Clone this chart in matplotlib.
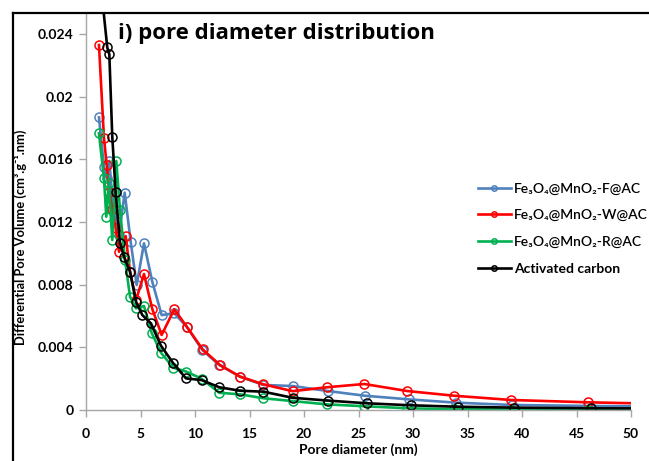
import matplotlib
matplotlib.use("Agg")
import matplotlib.pyplot as plt
from matplotlib.lines import Line2D

# ---------------- data ----------------
black_x = [1.5, 1.95, 2.14, 2.41, 2.72, 3.12, 3.51, 4.04, 4.59, 5.17, 5.96, 6.88, 8.01, 9.17,
           10.61, 12.23, 14.13, 16.27, 18.96, 22.2, 25.75, 29.79, 34.1, 39.3, 46.3, 55]
black_y = [0.0262, 0.02315, 0.0227, 0.01745, 0.0139, 0.01064, 0.00975, 0.00883, 0.00691, 0.00606,
           0.00553, 0.0041, 0.00298, 0.00202, 0.00191, 0.00145, 0.00123, 0.00117, 0.00078, 0.0006,
           0.00043, 0.0003, 0.00021, 0.00015, 0.00011, 0.00009]

blue_x = [1.19, 1.65, 1.9, 2.14, 2.41, 2.72, 3.03, 3.55, 4.1, 4.65, 5.32, 6.08, 6.94, 8.1, 9.24,
          10.67, 12.23, 14.13, 16.27, 18.96, 22.2, 25.6, 29.6, 33.9, 39.1, 46.1, 55]
blue_y = [0.01868, 0.0155, 0.0148, 0.0159, 0.0135, 0.0125, 0.0112, 0.01387, 0.01074, 0.00798,
          0.01064, 0.00819, 0.00606, 0.00617, 0.00532, 0.00383, 0.00287, 0.00213, 0.0016, 0.00153,
          0.00121, 0.00091, 0.00068, 0.00047, 0.00032, 0.00026, 0.0002]

red_x = [1.19, 1.65, 1.9, 2.14, 2.41, 2.72, 3.03, 3.64, 4.04, 4.59, 5.32, 6.08, 6.94, 8.1, 9.24,
         10.7, 12.3, 14.13, 16.27, 18.96, 22.08, 25.53, 29.48, 33.79, 38.99, 46.08, 55]
red_y = [0.0233, 0.01734, 0.01564, 0.0139, 0.0128, 0.0116, 0.0101, 0.0111, 0.00883, 0.00702,
         0.00868, 0.00645, 0.00479, 0.00643, 0.00532, 0.00387, 0.00287, 0.00213, 0.00164, 0.0012,
         0.00145, 0.00166, 0.00121, 0.00091, 0.00064, 0.00049, 0.00036]

green_x = [1.19, 1.65, 1.86, 2.1, 2.41, 2.78, 3.12, 3.58, 4.04, 4.59, 5.32, 6.02, 6.88, 8.01, 9.2,
           10.6, 12.23, 14.13, 16.27, 18.96, 22.08, 25.53, 29.48, 33.79, 38.99, 46.08, 55]
green_y = [0.01766, 0.01479, 0.01234, 0.0145, 0.01085, 0.0159, 0.01277, 0.00957, 0.00723, 0.00649,
           0.00664, 0.00493, 0.00366, 0.0027, 0.00245, 0.002, 0.0011, 0.001, 0.00075, 0.00057,
           0.00036, 0.00024, 0.00011, 0.00005, 0.00003, 0.00001, 0.00001]

labels = ["Fe₃O₄@MnO₂-F@AC", "Fe₃O₄@MnO₂-W@AC", "Fe₃O₄@MnO₂-R@AC", "Activated carbon"]
colors = ["#4F81BD", "#FF0000", "#00B050", "#000000"]
x_ticks = [0, 5, 10, 15, 20, 25, 30, 35, 40, 45, 50]
y_ticks = [0, 0.004, 0.008, 0.012, 0.016, 0.02, 0.024]
y_tick_labels = ["0", "0.004", "0.008", "0.012", "0.016", "0.02", "0.024"]

FONT = ["Lato", "DejaVu Sans"]
plt.rcParams["font.family"] = FONT

fig = plt.figure(figsize=(6.49, 4.61), dpi=100)
ax = fig.add_axes([86 / 649, 51 / 461, 545 / 649, 396 / 461])

series = [(blue_x, blue_y), (red_x, red_y), (green_x, green_y), (black_x, black_y)]
handles = []
for (xs, ys), c, lab in zip(series, colors, labels):
    h, = ax.plot(xs, ys, color=c, lw=1.9, marker="o", ms=6.5, mfc="none", mec=c, mew=1.1,
                 label=lab, clip_on=True)
    handles.append(h)

ax.set_xlim(0, 50)
ax.set_ylim(0, 0.02528)
ax.set_xticks(x_ticks)
ax.set_xticklabels([str(v) for v in x_ticks], fontweight="bold", fontsize=10)
ax.set_yticks(y_ticks)
ax.set_yticklabels(y_tick_labels, fontweight="bold", fontsize=10)

for s in ["top", "right"]:
    ax.spines[s].set_visible(False)
for s in ["left", "bottom"]:
    ax.spines[s].set_color("#A6A6A6")
    ax.spines[s].set_linewidth(1.0)
ax.tick_params(axis="y", direction="out", length=5, color="#A6A6A6", width=1, pad=4)
ax.tick_params(axis="x", direction="out", length=5, color="#A6A6A6", width=1, pad=8)

ax.set_xlabel("Pore diameter (nm)", fontweight="bold", fontsize=10, labelpad=2)
ax.set_ylabel("Differential Pore Volume (cm³.g⁻¹.nm)", fontweight="bold", fontsize=9.3)
ax.yaxis.set_label_coords(-(86 - 27) / 545, (410 - 237) / 396)

fig.text(118 / 649, 1 - 33 / 461, "i) pore diameter distribution", fontsize=16, fontweight="bold",
         family=["Open Sans", "DejaVu Sans"], va="center", ha="left")

leg = ax.legend(handles=handles, loc="upper left", bbox_to_anchor=(472 / 649, 1 - 177 / 461),
                bbox_transform=fig.transFigure, frameon=False, fontsize=10, handlelength=2.4,
                handletextpad=0.25, labelspacing=1.05, markerscale=0.6, borderaxespad=0)
for t in leg.get_texts():
    t.set_fontweight("semibold")
leg.get_texts()[3].set_fontweight("bold")

# outer frame lines (top and left)
fig.add_artist(Line2D([13 / 649, 1], [1 - 13.5 / 461, 1 - 13.5 / 461], color="black", lw=1.6,
                      transform=fig.transFigure))
fig.add_artist(Line2D([13 / 649, 13 / 649], [0, 1 - 13.5 / 461], color="black", lw=1.6,
                      transform=fig.transFigure))

fig.savefig("out.png", dpi=100)
